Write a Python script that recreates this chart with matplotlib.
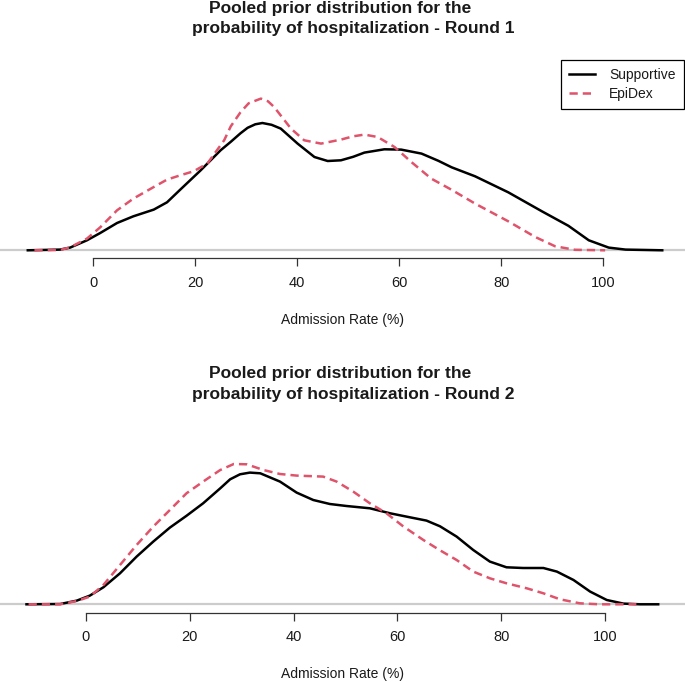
import matplotlib
matplotlib.use("Agg")
import matplotlib.pyplot as plt

plt.rcParams['font.family'] = ['Liberation Sans', 'DejaVu Sans']

# ---------------- data (relative density) ----------------
r1_sup_x = [-12.8, -6.5, -4.5, -1.2, 1.4, 4.7, 7.9, 11.9, 14.5, 17.1, 21.1, 25.0, 27.0,
            28.9, 30.3, 31.8, 33.2, 35.0, 36.8, 40.1, 43.4, 46.0, 48.6, 51.0, 53.2, 57.1,
            60.4, 64.4, 67.7, 70.3, 74.9, 81.4, 88.0, 93.2, 97.2, 101.1, 104.4, 111.6]
r1_sup_y = [0, 0.7, 2.7, 10, 17.3, 27.3, 34, 40.7, 48, 60.7, 80, 100, 108.5,
            117, 122.5, 126, 127.3, 125.5, 121.7, 106.7, 93.3, 89.3, 90, 93.5, 97.7, 101,
            100.7, 96.7, 89.5, 83, 74, 58, 39, 24.5, 10, 2.7, 0.7, 0]

r1_epi_x = [-11.5, -6.5, -4.5, -1.2, 1.4, 4.7, 7.9, 11.9, 14.5, 17.1, 19.7, 22.4, 25.7,
            27.0, 28.9, 30.5, 32.9, 34.3, 35.5, 38.8, 41.4, 44.7, 48.6, 51.0, 53.2, 55.8,
            59.1, 62.4, 66.3, 70.3, 74.9, 81.4, 86.7, 90.6, 94.5, 100.4]
r1_epi_y = [0, 0.3, 3, 11.7, 23, 40, 51.7, 63.3, 70.7, 75, 79, 86.7, 110,
            124, 138, 147, 151.7, 149, 143.3, 121.7, 110, 106.7, 110.7, 114, 115.7, 113.3,
            103.3, 88.3, 71.7, 60.5, 46.7, 29, 13.3, 4, 0.5, 0]

r2_sup_x = [-11.4, -4.9, -1.7, 0.8, 3.4, 6.6, 9.8, 13.0, 16.2, 19.4, 22.6, 25.9, 27.8,
            29.7, 31.6, 33.6, 37.4, 40.6, 43.8, 47.0, 50.2, 54.7, 58.6, 62.4, 65.6, 68.2,
            71.4, 74.6, 77.8, 81.0, 84.2, 88.1, 90.7, 93.9, 97.1, 100.3, 103.5, 106.7, 110.2]
r2_sup_y = [0, 0.3, 3.7, 8.7, 17, 31, 47.7, 62.7, 76.7, 88.5, 101, 116, 125,
            130, 131.7, 131, 122.7, 111.7, 104.3, 100.3, 98.3, 96, 91, 87, 83.7, 78,
            67.7, 54.3, 42.7, 37, 36.3, 36.3, 32.7, 24.3, 12.7, 4.3, 0.7, 0, 0]

r2_epi_x = [-11.0, -4.9, -1.7, 0.8, 3.4, 6.6, 9.8, 13.0, 16.2, 19.4, 22.6, 25.9, 28.5,
            31.0, 34.2, 37.4, 40.6, 45.7, 48.3, 51.5, 54.7, 57.9, 61.1, 65.0, 68.2, 71.4,
            74.6, 77.8, 81.0, 84.9, 88.1, 91.3, 95.1, 98.9, 106.0]
r2_epi_y = [0, 0, 3.3, 7.7, 19.3, 39.3, 59.3, 77.7, 94.3, 111, 122.7, 134.3, 140.3,
            140, 134.3, 130.3, 128.7, 127.7, 122.7, 112.7, 101, 91, 78, 64.3, 54, 44.3,
            32.7, 26, 21, 16, 11, 5, 1, 0, 0]

x_ticks = [0, 20, 40, 60, 80, 100]
series_labels = ["Supportive", "EpiDex"]
titles = [("Pooled prior distribution for the", "probability of hospitalization - Round 1"),
          ("Pooled prior distribution for the", "probability of hospitalization - Round 2")]
xlabel = "Admission Rate (%)"

# ---------------- figure ----------------
W, H = 685, 682
fig = plt.figure(figsize=(W / 100, H / 100), dpi=100)

RED = "#DF536B"
TXT = "#1a1a1a"


def fy(px):
    return 1 - px / H


panels = [
    dict(bottom_px=258.3, xlim=(-18.25, 116.06), ylim=(-8.0, 189.3),
         sx=r1_sup_x, sy=r1_sup_y, ex=r1_epi_x, ey=r1_epi_y,
         t1=13.3, t2=33.3, legend=True, title=titles[0]),
    dict(bottom_px=612.7, xlim=(-16.5, 115.36), ylim=(-8.4, 188.9),
         sx=r2_sup_x, sy=r2_sup_y, ex=r2_epi_x, ey=r2_epi_y,
         t1=378.3, t2=399.0, legend=False, title=titles[1]),
]

hpx = 197.3
for p in panels:
    ax = fig.add_axes([0, fy(p['bottom_px']), 1, hpx / H])
    ax.set_xlim(*p['xlim'])
    ax.set_ylim(*p['ylim'])
    ax.axhline(0, color="#cccccc", lw=1.6, zorder=1)
    l1, = ax.plot(p['sx'], p['sy'], color="black", lw=1.8, zorder=3,
                  solid_joinstyle='round', label=series_labels[0])
    l2, = ax.plot(p['ex'], p['ey'], color=RED, lw=1.8, zorder=4,
                  linestyle=(0, (3.3, 2.0)), label=series_labels[1])
    for s in ['top', 'right', 'left']:
        ax.spines[s].set_visible(False)
    ax.spines['bottom'].set_bounds(0, 100)
    ax.spines['bottom'].set_color("#333333")
    ax.spines['bottom'].set_linewidth(0.9)
    ax.set_yticks([])
    ax.set_xticks(x_ticks)
    ax.set_xticklabels([str(v) for v in x_ticks])
    ax.tick_params(axis='x', direction='out', length=6, width=0.9, color="#333333",
                   pad=6.5, labelsize=10.5, labelcolor=TXT)
    ax.set_xlabel(xlabel, fontsize=10, color=TXT)
    ax.xaxis.label.set_va('baseline')
    ax.xaxis.set_label_coords(0.5, -0.332)
    ax.patch.set_visible(False)

    fig.text(340.6 / W, fy(p['t1']), p['title'][0], ha='center', va='baseline',
             fontsize=12.5, fontweight='bold', color=TXT)
    fig.text(353.3 / W, fy(p['t2']), p['title'][1], ha='center', va='baseline',
             fontsize=12.5, fontweight='bold', color=TXT)

    if p['legend']:
        leg = ax.legend(loc='upper right', bbox_to_anchor=(684 / W, fy(60)),
                        bbox_transform=fig.transFigure, fontsize=10, frameon=True,
                        fancybox=False, edgecolor='black', framealpha=1,
                        borderpad=0.6, handlelength=1.9, handletextpad=1.0,
                        labelspacing=0.34, borderaxespad=0)
        leg.get_frame().set_linewidth(0.9)
        for t in leg.get_texts():
            t.set_color(TXT)

fig.savefig("out.png", dpi=100)
